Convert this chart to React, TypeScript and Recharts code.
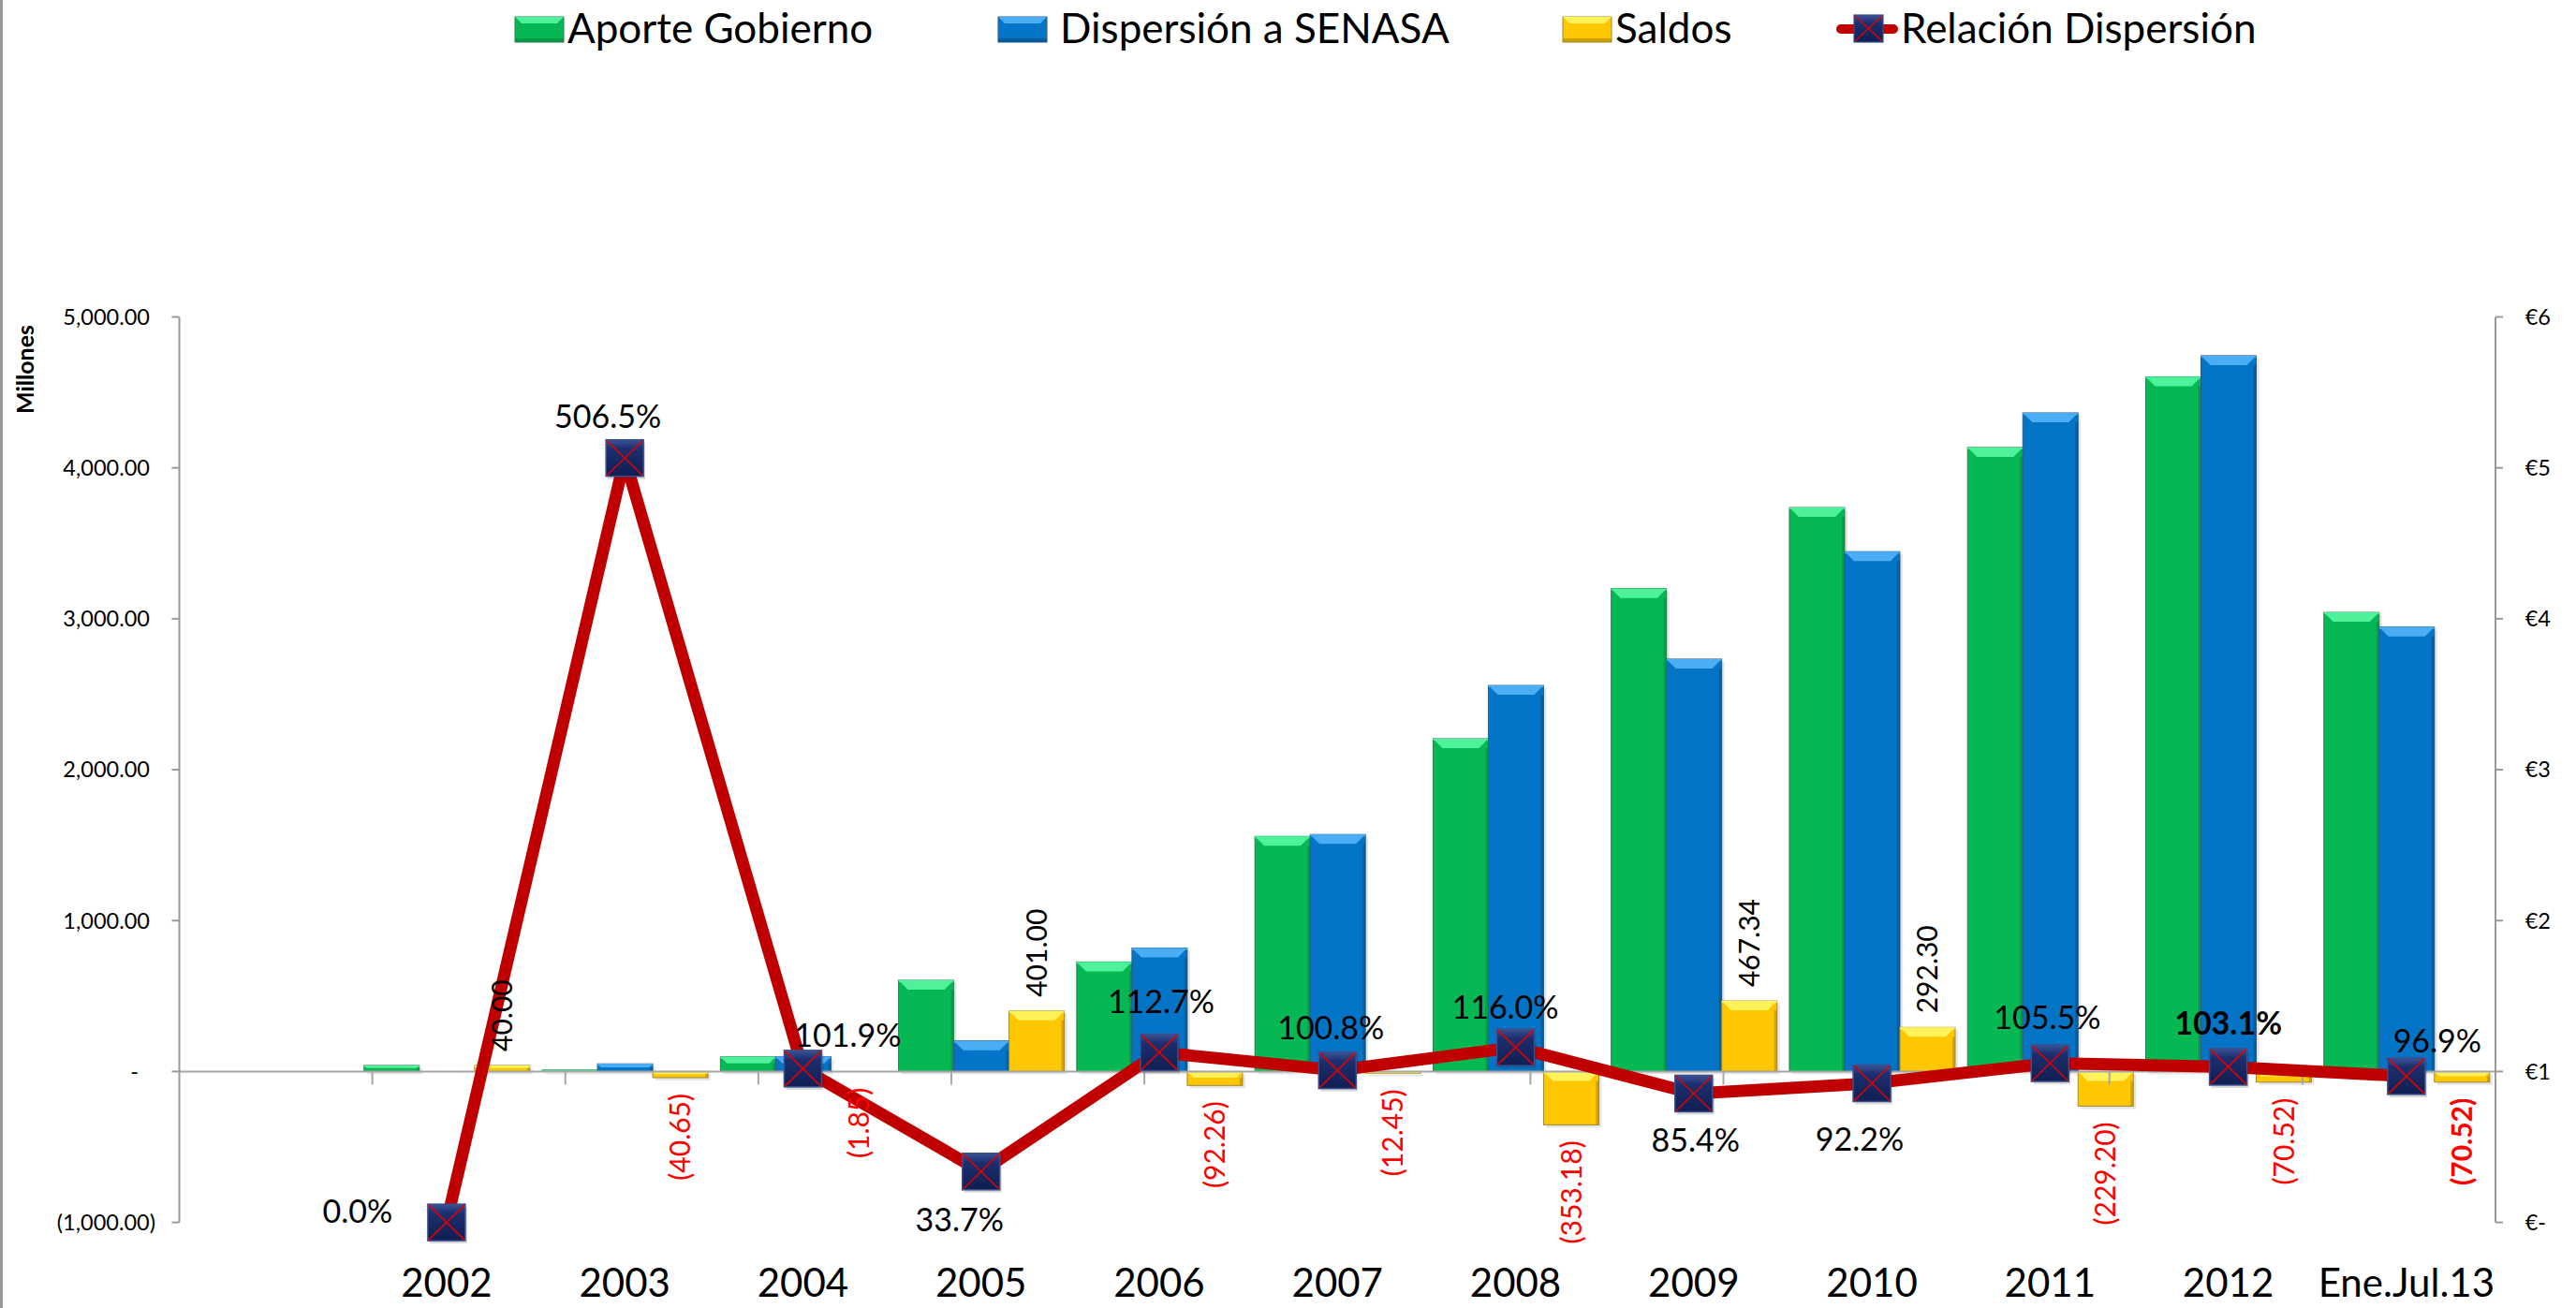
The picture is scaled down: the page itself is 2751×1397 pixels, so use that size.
import React from 'react';
import { ComposedChart, Bar, Line, XAxis, YAxis, ReferenceLine, LabelList } from 'recharts';

// ---------- data ----------
const CATEGORIES = ['', '2002', '2003', '2004', '2005', '2006', '2007', '2008', '2009', '2010', '2011', '2012', 'Ene.Jul.13'];
const APORTE_GOBIERNO = [null, 40, 10, 97, 604.4, 726, 1558, 2205, 3200, 3737, 4135, 4603, 3042];
const DISPERSION_SENASA = [null, 0, 50.65, 98.85, 203.4, 818.26, 1570.45, 2558.18, 2732.66, 3444.7, 4364.2, 4743, 2945];
const SALDOS = [null, 40, -40.65, -1.85, 401, -92.26, -12.45, -353.18, 467.34, 292.3, -229.2, -70.52, -70.52];
const RELACION_DISPERSION = [null, 0, 5.065, 1.019, 0.337, 1.127, 1.008, 1.16, 0.854, 0.922, 1.055, 1.031, 0.969];
const LEFT_TICKS = [-1000, 0, 1000, 2000, 3000, 4000, 5000];
const RIGHT_TICKS = [0, 1, 2, 3, 4, 5, 6];
const SERIES_NAMES = ['Aporte Gobierno', 'Dispersión a SENASA', 'Saldos', 'Relación Dispersión'];
const BOLD_CATEGORIES = ['2012'];
const BOUNDARIES = [1, 2, 3, 4, 5, 6, 7, 8, 9, 10, 11, 12];

// ---------- styles ----------
const FONT = 'Lato, "Open Sans", sans-serif';
const W = 2751;
const H = 1397;
const GREEN = { base: '#06B853', light: '#4DF29A', dark: '#078A3F', edge: '#2F7A50' };
const BLUE = { base: '#0474C6', light: '#4BAEF5', dark: '#05528C', edge: '#2C5A86' };
const YELLOW = { base: '#FFC700', light: '#FFF25A', dark: '#B38B00', edge: '#9C8A3A' };
const LINE_RED = '#C00000';
// label placement (dx, dy from marker centre) per category
const PCT_OFFSETS = [
  [0, 0], [-95, -12], [-18, -44], [48, -36], [-23, 52], [2, -54], [-7, -45],
  [-11, -43], [2, 50], [-13, 60], [-3, -49], [0, -47], [33, -38],
];
const LEGEND_ICON_X = [550, 1066, 1669, 1961];
const LEGEND_TEXT_X = [606, 1132, 1725, 2030];
const PCT_FS = 34;
const SALDO_FS = 30;
const TICK_FS = 23.5;
const CAT_FS = 42;
const LEGEND_FS = 44;

const data = CATEGORIES.map((cat, i) => ({
  cat,
  aporte: APORTE_GOBIERNO[i],
  dispersion: DISPERSION_SENASA[i],
  saldos: SALDOS[i],
  relacion: RELACION_DISPERSION[i],
}));

const fmtNum = (v: number) =>
  Math.abs(v).toLocaleString('en-US', { minimumFractionDigits: 2, maximumFractionDigits: 2 });

const makeBar = (c: any) => (props: any) => {
  const { x, y, width, height } = props;
  if (x == null || y == null || height == null || !isFinite(y) || !isFinite(height)) return <g />;
  const h = Math.abs(height);
  if (h < 0.5 || width <= 0) return <g />;
  const top = Math.min(y, y + height);
  const b = Math.min(10, h * 0.45, width * 0.2);
  return (
    <g>
      <rect x={x + 3} y={top + 3} width={width} height={h} fill="#000" opacity={0.1} />
      <rect x={x} y={top} width={width} height={h} fill={c.base} stroke={c.edge} strokeWidth={1} />
      <rect x={x + width - 3} y={top + b} width={3} height={Math.max(0, h - b)} fill={c.dark} opacity={0.6} />
      <polygon
        points={`${x},${top} ${x + width},${top} ${x + width - b},${top + b} ${x + b},${top + b}`}
        fill={c.light}
      />
      <rect x={x} y={top} width={width} height={Math.min(2, h)} fill={c.light} opacity={0.8} />
    </g>
  );
};

const GreenBar = makeBar(GREEN);
const BlueBar = makeBar(BLUE);
const YellowBar = makeBar(YELLOW);

const MarkerShape = ({ cx, cy, w = 40, h = 39 }: any) => {
  const x0 = cx - w / 2;
  const y0 = cy - h / 2;
  return (
    <g>
      <rect x={x0 + 2} y={y0 + 3} width={w} height={h} fill="#000" opacity={0.15} />
      <rect x={x0} y={y0} width={w} height={h} fill="url(#navyGrad)" stroke="#3B4F8C" strokeWidth={1.5} />
      <line x1={x0 + 1} y1={y0 + 1} x2={x0 + w - 1} y2={y0 + h - 1} stroke="#E00000" strokeWidth={1.6} />
      <line x1={x0 + w - 1} y1={y0 + 1} x2={x0 + 1} y2={y0 + h - 1} stroke="#E00000" strokeWidth={1.6} />
    </g>
  );
};

const LineDot = (props: any) => {
  const { cx, cy, index, value } = props;
  if (cx == null || cy == null || value == null || !isFinite(cy)) return <g key={`d${index}`} />;
  return (
    <g key={`d${index}`}>
      <MarkerShape cx={cx} cy={cy} />
    </g>
  );
};

const PctLabel = (props: any) => {
  const { value, index } = props;
  const vb = props.viewBox || {};
  const x = props.x ?? vb.x;
  const y = props.y ?? vb.y;
  if (value == null || x == null || y == null) return null;
  const [dx, dy] = PCT_OFFSETS[index] || [0, -45];
  const bold = BOLD_CATEGORIES.includes(CATEGORIES[index]);
  return (
    <text
      x={x + dx}
      y={y + dy + PCT_FS * 0.358}
      textAnchor="middle"
      fontFamily={FONT}
      fontSize={PCT_FS}
      fontWeight={bold ? 700 : 400}
      fill="#000"
    >
      {(value * 100).toFixed(1) + '%'}
    </text>
  );
};

const SaldoLabel = (props: any) => {
  const { value, index } = props;
  const vb = props.viewBox || props;
  const x = vb.x ?? props.x;
  const y = vb.y ?? props.y;
  const w = vb.width ?? props.width;
  const h = vb.height ?? props.height;
  if (value == null || x == null || y == null) return null;
  const top = Math.min(y, y + h);
  const bottom = Math.max(y, y + h);
  const cx = x + w / 2;
  const neg = value < 0;
  const py = neg ? bottom + 17 : top - 15;
  const bold = BOLD_CATEGORIES.includes(CATEGORIES[index]);
  const txt = neg ? `(${fmtNum(value)})` : fmtNum(value);
  return (
    <text
      x={cx}
      y={py}
      dy={SALDO_FS * 0.358}
      transform={`rotate(-90, ${cx}, ${py})`}
      textAnchor={neg ? 'end' : 'start'}
      fontFamily={FONT}
      fontSize={SALDO_FS}
      fontWeight={bold ? 700 : 400}
      fill={neg ? '#FF0000' : '#000'}
    >
      {txt}
    </text>
  );
};

const LeftTick = (props: any) => {
  const { x, y, payload } = props;
  const v = payload.value;
  let txt = fmtNum(v);
  let dx = 0;
  if (v === 0) {
    txt = '-';
    dx = -12;
  } else if (v < 0) {
    txt = `(${fmtNum(v)})`;
    dx = 6;
  }
  return (
    <text x={x + dx} y={y + TICK_FS * 0.358} textAnchor="end" fontFamily={FONT} fontSize={TICK_FS} fill="#000">
      {txt}
    </text>
  );
};

const RightTick = (props: any) => {
  const { x, y, payload } = props;
  const v = payload.value;
  const txt = v === 0 ? '€-' : `€${v}`;
  return (
    <text x={x} y={y + TICK_FS * 0.358} textAnchor="start" fontFamily={FONT} fontSize={TICK_FS} fill="#000">
      {txt}
    </text>
  );
};

const CatTick = (props: any) => {
  const { x, y, payload } = props;
  return (
    <text x={x} y={y + 79.5} textAnchor="middle" fontFamily={FONT} fontSize={CAT_FS} fill="#000">
      {payload.value}
    </text>
  );
};

const LegendSquare = ({ x, c }: any) => {
  const w = 52, h = 27, y = 18, b = 7;
  return (
    <g>
      <rect x={x} y={y} width={w} height={h} fill={c.base} stroke={c.edge} strokeWidth={1} />
      <polygon points={`${x},${y} ${x + w},${y} ${x + w - b},${y + b} ${x + b},${y + b}`} fill={c.light} />
      <rect x={x} y={y + h - 4} width={w} height={4} fill={c.dark} opacity={0.7} />
    </g>
  );
};

const Legend = () => {
  const colors = [GREEN, BLUE, YELLOW];
  const lx = LEGEND_ICON_X[3];
  return (
    <svg width={W} height={80} style={{ position: 'absolute', left: 0, top: 0 }}>
      <defs>
        <linearGradient id="navyGradL" x1="0" y1="0" x2="0" y2="1">
          <stop offset="0" stopColor="#3A5396" />
          <stop offset="0.3" stopColor="#1C2E6E" />
          <stop offset="1" stopColor="#0F1E52" />
        </linearGradient>
      </defs>
      {colors.map((c, i) => (
        <g key={i}>
          <LegendSquare x={LEGEND_ICON_X[i]} c={c} />
          <text x={LEGEND_TEXT_X[i]} y={46} fontFamily={FONT} fontSize={LEGEND_FS} fill="#000">
            {SERIES_NAMES[i]}
          </text>
        </g>
      ))}
      <g>
        <line x1={lx + 5} y1={31} x2={lx + 61} y2={31} stroke={LINE_RED} strokeWidth={10} strokeLinecap="round" />
        <rect x={lx + 19} y={16} width={31} height={29} fill="url(#navyGradL)" stroke="#3B4F8C" strokeWidth={1.2} />
        <line x1={lx + 20} y1={17} x2={lx + 49} y2={44} stroke="#E00000" strokeWidth={1.4} />
        <line x1={lx + 49} y1={17} x2={lx + 20} y2={44} stroke="#E00000" strokeWidth={1.4} />
        <text x={LEGEND_TEXT_X[3]} y={46} fontFamily={FONT} fontSize={LEGEND_FS} fill="#000">
          {SERIES_NAMES[3]}
        </text>
      </g>
    </svg>
  );
};

export default function App() {
  return (
    <div style={{ position: 'absolute', left: 0, top: 0, width: W, height: H, background: '#fff', overflow: 'hidden' }}>
      <div style={{ position: 'absolute', left: 0, top: 0, width: 3, height: H, background: '#999' }} />
      <Legend />
      <svg width={60} height={H} style={{ position: 'absolute', left: 0, top: 0 }}>
        <text
          x={27}
          y={394.5}
          transform="rotate(-90, 27, 394.5)"
          dy={9}
          textAnchor="middle"
          fontFamily={FONT}
          fontWeight={700}
          fontSize={25}
          fill="#000"
        >
          Millones
        </text>
      </svg>
      <div style={{ position: 'absolute', left: 0, top: 0 }}>
        <ComposedChart
          width={W}
          height={H}
          data={data}
          margin={{ top: 338.5, right: 0, bottom: 0, left: 0 }}
          barCategoryGap="3.7%"
          barGap={0}
        >
          <defs>
            <linearGradient id="navyGrad" x1="0" y1="0" x2="0" y2="1">
              <stop offset="0" stopColor="#3A5396" />
              <stop offset="0.25" stopColor="#1C2E6E" />
              <stop offset="1" stopColor="#0F1E52" />
            </linearGradient>
          </defs>
          <XAxis
            xAxisId="cat"
            dataKey="cat"
            height={91.4}
            axisLine={false}
            tickLine={false}
            tickSize={0}
            tickMargin={0}
            interval={0}
            tick={CatTick}
          />
          <XAxis xAxisId="idx" type="number" domain={[0, 13]} hide />
          <YAxis
            yAxisId="left"
            width={191.5}
            domain={[-1000, 5000]}
            ticks={LEFT_TICKS}
            interval={0}
            axisLine={{ stroke: '#9A9A9A', strokeWidth: 2 }}
            tickLine={{ stroke: '#9A9A9A', strokeWidth: 2 }}
            tickSize={8}
            tickMargin={23.5}
            tick={LeftTick}
          />
          <YAxis
            yAxisId="right"
            orientation="right"
            width={86}
            domain={[0, 6]}
            ticks={RIGHT_TICKS}
            interval={0}
            axisLine={{ stroke: '#9A9A9A', strokeWidth: 2 }}
            tickLine={{ stroke: '#9A9A9A', strokeWidth: 2 }}
            tickSize={8}
            tickMargin={23.7}
            tick={RightTick}
          />
          <ReferenceLine xAxisId="cat" yAxisId="left" y={0} stroke="#A6A6A6" strokeWidth={2} />
          {BOUNDARIES.map((b) => (
            <ReferenceLine
              key={`b${b}`}
              xAxisId="idx"
              yAxisId="left"
              segment={[{ x: b, y: 0 }, { x: b, y: -87 }]}
              stroke="#A6A6A6"
              strokeWidth={2}
            />
          ))}
          <Bar xAxisId="cat" yAxisId="left" dataKey="aporte" name={SERIES_NAMES[0]} fill={GREEN.base} shape={GreenBar} isAnimationActive={false} />
          <Bar xAxisId="cat" yAxisId="left" dataKey="dispersion" name={SERIES_NAMES[1]} fill={BLUE.base} shape={BlueBar} isAnimationActive={false} />
          <Bar xAxisId="cat" yAxisId="left" dataKey="saldos" name={SERIES_NAMES[2]} fill={YELLOW.base} shape={YellowBar} isAnimationActive={false}>
            <LabelList dataKey="saldos" content={SaldoLabel} />
          </Bar>
          <Line
            xAxisId="cat"
            yAxisId="right"
            dataKey="relacion"
            name={SERIES_NAMES[3]}
            stroke={LINE_RED}
            strokeWidth={13}
            strokeLinejoin="round"
            dot={LineDot}
            activeDot={false}
            isAnimationActive={false}
          >
            <LabelList dataKey="relacion" content={PctLabel} />
          </Line>
        </ComposedChart>
      </div>
    </div>
  );
}
